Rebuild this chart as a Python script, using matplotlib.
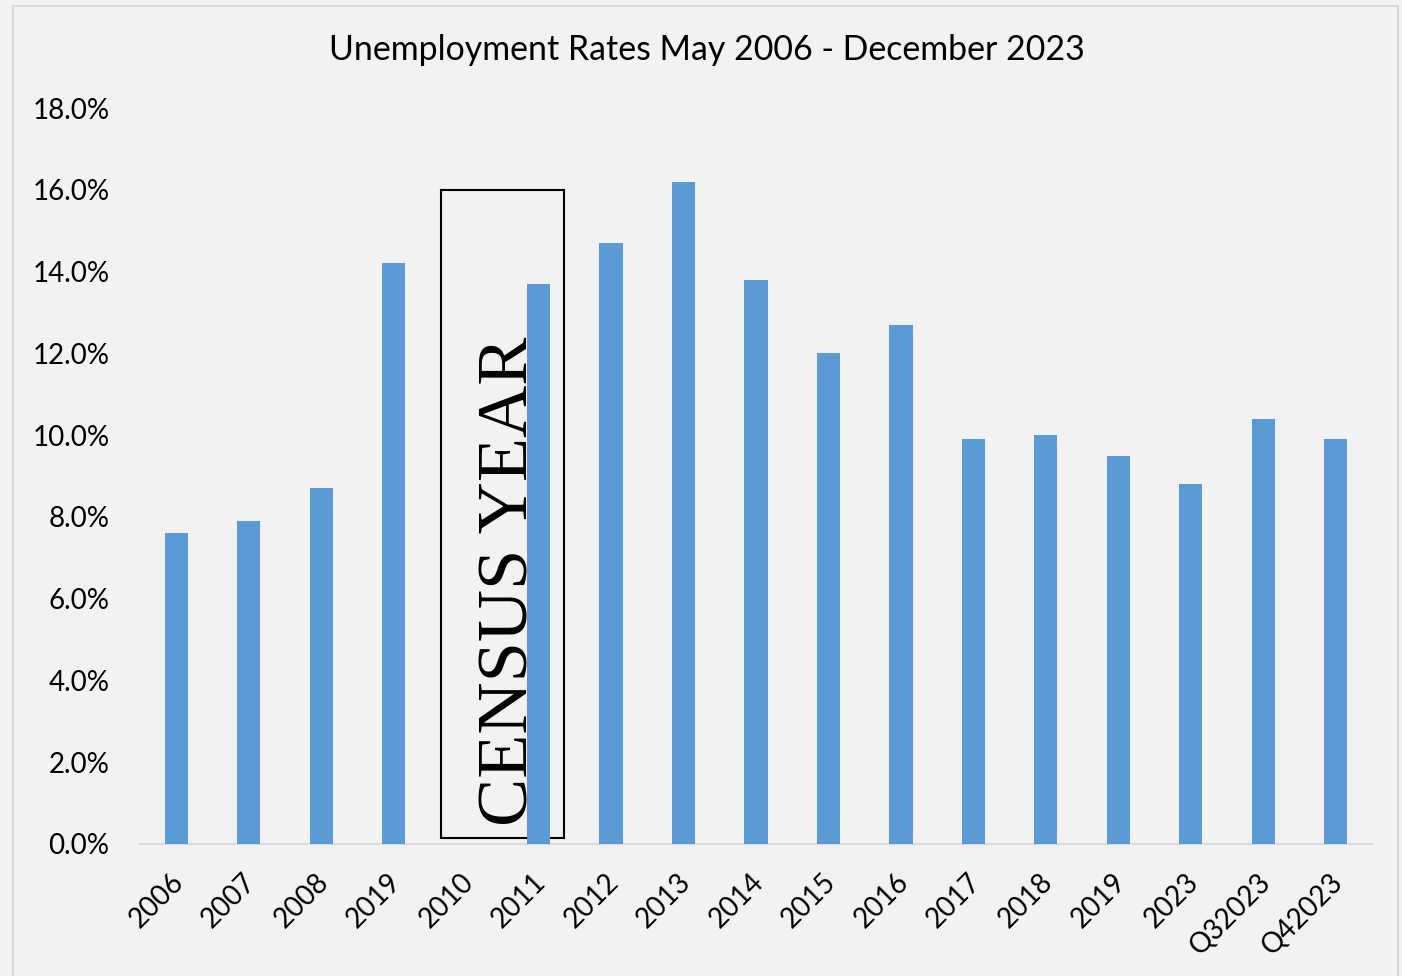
import numpy as np
import matplotlib
matplotlib.use("Agg")
import matplotlib.pyplot as plt
from matplotlib.patches import Rectangle
from matplotlib.ticker import FuncFormatter
from matplotlib.transforms import ScaledTranslation

# data (2010 has no bar, it is the census year)
categories = ["2006", "2007", "2008", "2019", "2010", "2011", "2012", "2013", "2014",
              "2015", "2016", "2017", "2018", "2019", "2023", "Q32023", "Q42023"]
rates = [7.6, 7.9, 8.7, 14.2, np.nan, 13.7, 14.7, 16.2, 13.8,
         12.0, 12.7, 9.9, 10.0, 9.5, 8.8, 10.4, 9.9]
yticks = [0, 2, 4, 6, 8, 10, 12, 14, 16, 18]

plt.rcParams['font.family'] = ['Lato', 'DejaVu Sans']

bg = "#f2f2f2"
fig = plt.figure(figsize=(14.02, 9.76), dpi=100, facecolor=bg)
ax = fig.add_axes([0.0999, 0.1353, 0.8787, 0.7540])
ax.set_facecolor(bg)

# outer chart border
fig.add_artist(Rectangle((13 / 1402, -0.01), 1385 / 1402, 1 - 6 / 976 + 0.01,
                         transform=fig.transFigure, fill=False,
                         edgecolor="#d9d9d9", linewidth=1.5))

x = np.arange(len(categories))
ax.bar(x, rates, width=0.32, color="#5b9bd5", zorder=3)

ax.set_xlim(-0.5, len(categories) - 0.5)
ax.set_ylim(0, 18)
ax.set_yticks(yticks)
ax.yaxis.set_major_formatter(FuncFormatter(lambda v, p: f"{v:.1f}%"))
ax.set_xticks(x)
ax.set_xticklabels(categories, rotation=45, ha="right", rotation_mode="anchor")

ax.tick_params(axis="y", length=0, pad=22, labelsize=20)
ax.tick_params(axis="x", length=0, pad=18, labelsize=20)
shift = ScaledTranslation(-6 / 100, 0, fig.dpi_scale_trans)
for lab in ax.get_xticklabels():
    lab.set_transform(lab.get_transform() + shift)
for s in ["top", "right", "left"]:
    ax.spines[s].set_visible(False)
ax.spines["bottom"].set_color("#d9d9d9")
ax.spines["bottom"].set_linewidth(1.5)

fig.text(0.504, 1 - 50 / 976, "Unemployment Rates May 2006 - December 2023",
         fontsize=24.4, ha="center", va="center")

# census year box with vertical text
ax.add_patch(Rectangle((3.655, 0.15), 1.695, 15.85, fill=False,
                       edgecolor="black", linewidth=1.5, zorder=2))
ax.text(4.84, 0.44, "CENSUS YEAR", rotation=90, rotation_mode="anchor",
        ha="left", va="baseline", fontsize=52, family="Liberation Serif", zorder=2)

fig.savefig("out.png", dpi=100, facecolor=bg)
